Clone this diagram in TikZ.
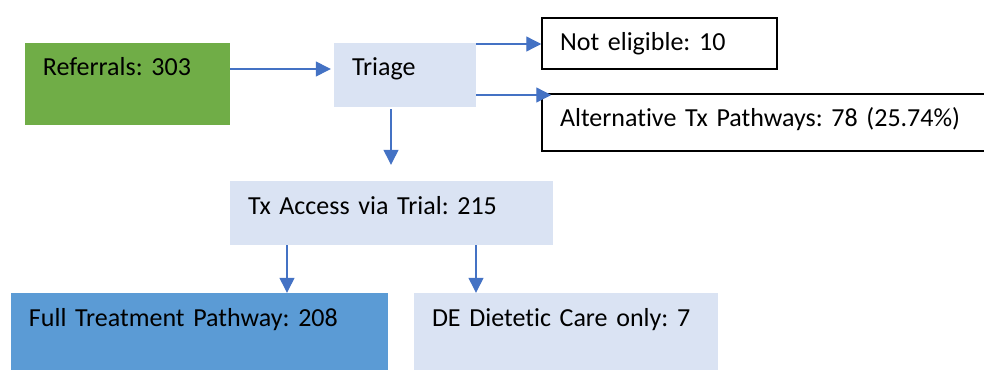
\documentclass[tikz,border=0pt]{standalone}
\usepackage{fontspec}
\setmainfont{Carlito}[Ligatures=NoCommon]
\frenchspacing
\usetikzlibrary{positioning, arrows.meta}
\definecolor{refgreen}{HTML}{70AD47}
\definecolor{paleblue}{HTML}{DAE3F3}
\definecolor{fullblue}{HTML}{5B9BD5}
\definecolor{arrowblue}{HTML}{4472C4}
\tikzstyle{stage} = [rectangle, align=left, inner xsep=18pt, inner ysep=0pt, text height=33pt, font=\fontsize{26}{31}\selectfont]
\tikzstyle{source} = [stage, fill=refgreen]
\tikzstyle{pale} = [stage, fill=paleblue]
\tikzstyle{main} = [stage, fill=fullblue]
\tikzstyle{outcome} = [stage, draw=black, line width=1.5pt, fill=white]
\tikzstyle{arrow} = [draw=arrowblue, line width=1.3pt, -{Triangle[length=15pt, width=15pt]}]

\begin{document}
\begin{tikzpicture}[node distance=100pt]
   \path[use as bounding box, clip] (-127.5pt,84pt) rectangle (856.5pt,-285pt);

   \node (ref) [source, text width=169pt, text depth=49pt] {Referrals: 303};
   \node (triage) [pale, right of=ref, xshift=177.5pt, yshift=9pt, text width=106pt, text depth=31pt] {Triage};
   \node (noteli) [outcome, right of=triage, xshift=154.5pt, yshift=31.5pt, text width=199pt, text depth=18pt] {Not eligible: 10};
   \node (alt) [outcome, right of=triage, xshift=261pt, yshift=-47.5pt, text width=412pt, text depth=24pt] {Alternative Tx Pathways: 78 (25.74\%)};
   \node (tx) [pale, below of=triage, xshift=-13.5pt, yshift=-38pt, text width=287pt, text depth=31pt] {Tx Access via Trial: 215};
   \node (full) [main, below of=tx, xshift=-192pt, yshift=-18.5pt, text width=341pt, text depth=44pt] {Full Treatment Pathway: 208};
   \node (diet) [pale, below of=tx, xshift=174.5pt, yshift=-18.5pt, text width=268pt, text depth=44pt] {DE Dietetic Care only: 7};

   \draw [arrow] ([yshift=15pt]ref.east) -- ([xshift=-3pt, yshift=6pt]triage.west);
   \draw [arrow] ([yshift=31pt]triage.east) -- ([yshift=-0.5pt]noteli.west);
   \draw [arrow] ([yshift=-20pt]triage.east) -- ([xshift=10pt, yshift=27.5pt]alt.west);
   \draw [arrow] ([xshift=-14pt, yshift=-2pt]triage.south) -- ([xshift=-0.5pt, yshift=16pt]tx.north);
   \draw [arrow] ([xshift=-104.5pt]tx.south) -- ([xshift=87.5pt]full.north);
   \draw [arrow] ([xshift=84.5pt]tx.south) -- ([xshift=-90pt]diet.north);
\end{tikzpicture}
\end{document}
